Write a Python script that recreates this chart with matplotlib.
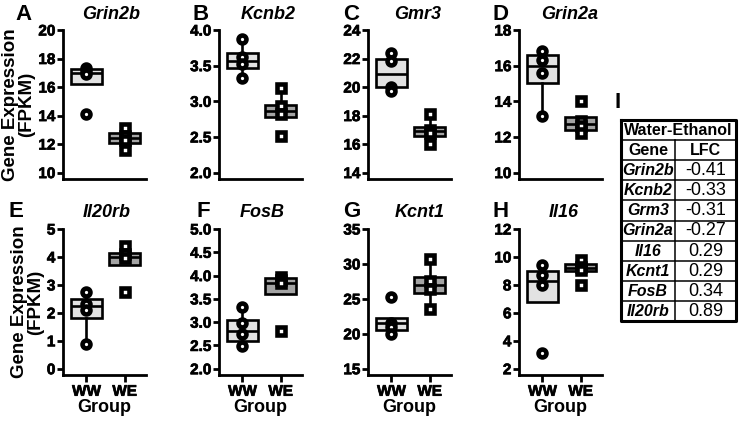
import matplotlib
matplotlib.use('Agg')
import matplotlib.pyplot as plt
import matplotlib.patheffects as pe

plt.rcParams['font.family'] = ['Liberation Sans', 'DejaVu Sans']
plt.rcParams['font.weight'] = 'bold'
plt.rcParams['axes.labelweight'] = 'bold'

# genes / paineis
genes = ['Grin2b', 'Kcnb2', 'Gmr3', 'Grin2a', 'Il20rb', 'FosB', 'Kcnt1', 'Il16']
letters = ['A', 'B', 'C', 'D', 'E', 'F', 'G', 'H']
groups = ['WW', 'WE']

# pontos individuais (FPKM)
ww_pts = [[17.3, 17.1, 16.9, 14.1], [3.87, 3.62, 3.52, 3.33],
          [22.4, 21.8, 20.0, 19.7], [16.8, 16.3, 15.6, 13.2],
          [2.75, 2.3, 2.1, 0.9], [3.33, 2.98, 2.75, 2.48],
          [25.2, 21.6, 20.9, 20.0], [9.4, 8.7, 8.0, 3.1]]
we_pts = [[13.1, 12.6, 12.3, 11.6], [3.18, 2.93, 2.82, 2.52],
          [18.1, 17.0, 16.8, 16.0], [14.0, 12.9, 12.6, 12.2],
          [4.4, 4.1, 3.95, 2.75], [3.98, 3.9, 3.85, 2.8],
          [30.7, 27.6, 26.4, 23.5], [9.8, 9.3, 9.1, 8.0]]

# caixas: q1, mediana, q3, bigode baixo, bigode alto
ww_box = [(16.2, 17.0, 17.25, 16.2, 17.3), (3.47, 3.57, 3.68, 3.33, 3.87),
          (20.0, 20.9, 22.0, 19.7, 22.4), (15.0, 16.0, 16.6, 13.2, 16.8),
          (1.8, 2.25, 2.5, 0.9, 2.75), (2.6, 2.8, 3.05, 2.48, 3.33),
          (20.6, 21.5, 22.3, 20.0, 22.3), (6.8, 8.3, 9.0, 6.8, 9.4)]
we_box = [(12.1, 12.45, 12.8, 11.6, 13.1), (2.78, 2.87, 2.95, 2.78, 3.18),
          (16.6, 16.9, 17.2, 16.0, 18.1), (12.4, 12.75, 13.1, 12.2, 13.1),
          (3.7, 4.0, 4.15, 3.7, 4.4), (3.6, 3.85, 3.95, 3.6, 3.98),
          (25.8, 27.0, 28.2, 23.5, 30.7), (9.0, 9.2, 9.5, 9.0, 9.8)]

y_ticks = [[10, 12, 14, 16, 18, 20], [2.0, 2.5, 3.0, 3.5, 4.0],
           [14, 16, 18, 20, 22, 24], [10, 12, 14, 16, 18],
           [0, 1, 2, 3, 4, 5], [2.0, 2.5, 3.0, 3.5, 4.0, 4.5, 5.0],
           [15, 20, 25, 30, 35], [2, 4, 6, 8, 10, 12]]

# tabela I
tab_genes = ['Grin2b', 'Kcnb2', 'Grm3', 'Grin2a', 'Il16', 'Kcnt1', 'FosB', 'Il20rb']
tab_lfc = [-0.41, -0.33, -0.31, -0.27, 0.29, 0.29, 0.34, 0.89]

W, H = 740, 423
fig = plt.figure(figsize=(W / 100, H / 100), dpi=100)

# contorno leve para deixar o texto mais "pesado"
heavy = [pe.withStroke(linewidth=0.5, foreground='black')]


def fx(px):
    return px / W


def fy(py):
    return 1 - py / H


col_left = [63, 219, 368, 519]
ax_w = 83
row_top = [30, 229]
row_bot = [179, 375]
letter_x = [[15, 193, 343, 493], [8, 197, 343, 493]]
title_x = [[111, 268, 418, 570], [107, 262, 420, 564]]
letter_y = [20, 217]
title_y = [19, 217]


def box_stats(b):
    return dict(q1=b[0], med=b[1], q3=b[2], whislo=b[3], whishi=b[4])


for i in range(8):
    r, c = divmod(i, 4)
    ax = fig.add_axes([fx(col_left[c]), fy(row_bot[r]), fx(ax_w),
                       (row_bot[r] - row_top[r]) / H])
    stats = [box_stats(ww_box[i]), box_stats(we_box[i])]
    bp = ax.bxp(stats, positions=[1, 2], widths=0.8, patch_artist=True,
                showfliers=False, showcaps=False,
                boxprops=dict(linewidth=1.9, edgecolor='black'),
                medianprops=dict(color='black', linewidth=1.9),
                whiskerprops=dict(color='black', linewidth=1.9))
    bp['boxes'][0].set_facecolor('#e2e2e2')
    bp['boxes'][1].set_facecolor('#a4a4a4')
    ax.plot([1] * len(ww_pts[i]), ww_pts[i], 'o', ms=5.7, mew=3.3,
            mfc='white', mec='black', zorder=5)
    ax.plot([2] * len(we_pts[i]), we_pts[i], 's', ms=5.4, mew=3.3,
            mfc='white', mec='black', zorder=5)

    yt = y_ticks[i]
    ymin, ymax = yt[0], yt[-1]
    ax.set_ylim(ymin - 0.045 * (ymax - ymin), ymax)
    ax.set_xlim(0.385, 2.56)
    ax.set_yticks(yt)
    if any(t != int(t) for t in yt):
        labs = ['%.1f' % t for t in yt]
    else:
        labs = ['%d' % t for t in yt]
    ax.set_yticklabels(labs)
    for s in ['top', 'right']:
        ax.spines[s].set_visible(False)
    for s in ['left', 'bottom']:
        ax.spines[s].set_linewidth(2.0)
    ax.tick_params(axis='y', width=2.0, length=4, pad=1.5)
    if r == 0:
        ax.tick_params(axis='x', bottom=False, labelbottom=False)
    else:
        ax.set_xticks([1, 2])
        ax.set_xticklabels(groups)
        ax.tick_params(axis='x', width=2.0, length=5, pad=2)
        ax.set_xlabel('Group', fontsize=13, fontweight='bold', labelpad=0)
    if c == 0:
        ax.set_ylabel('Gene Expression\n(FPKM)', fontsize=13.5,
                      fontweight='bold', labelpad=2, linespacing=0.95)
    # rotulos em negrito
    for lab in ax.get_yticklabels() + ax.get_xticklabels():
        lab.set_fontweight('bold')
        lab.set_fontsize(11)
        lab.set_path_effects(heavy)

    fig.text(fx(letter_x[r][c]), fy(letter_y[r]), letters[i], fontsize=16,
             fontweight='bold', ha='left', va='baseline')
    fig.text(fx(title_x[r][c]), fy(title_y[r]), genes[i], fontsize=13,
             fontweight='bold', style='italic', ha='center', va='baseline')

# tabela
fig.text(fx(615), fy(108), 'I', fontsize=16, fontweight='bold',
         ha='left', va='baseline')
tab = fig.add_axes([fx(621), fy(321), fx(736 - 621), 201 / H])
tab.set_xlim(0, 1)
tab.set_ylim(10, 0)
tab.axis('off')
div = 0.47
for k in range(1, 10):
    tab.plot([0, 1], [k, k], color='black', lw=1.1)
tab.plot([div, div], [1, 10], color='black', lw=1.1)
tab.plot([0, 1, 1, 0, 0], [0, 0, 10, 10, 0], color='black', lw=2.2,
         clip_on=False)
tab.text(0.5, 0.52, 'Water-Ethanol', fontsize=11.5, fontweight='bold',
         ha='center', va='center')
tab.text(div / 2, 1.52, 'Gene', fontsize=11.5, fontweight='bold',
         ha='center', va='center')
tab.text((div + 1) / 2, 1.52, 'LFC', fontsize=11.5, fontweight='bold',
         ha='center', va='center')
for k, (g, v) in enumerate(zip(tab_genes, tab_lfc)):
    tab.text(div / 2, k + 2.52, g, fontsize=11.5, fontweight='bold',
             style='italic', ha='center', va='center')
    tab.text((div + 1) / 2, k + 2.52, '%.2f' % v, fontsize=13,
             fontweight='normal', ha='center', va='center')

fig.savefig('out.png', dpi=100)
